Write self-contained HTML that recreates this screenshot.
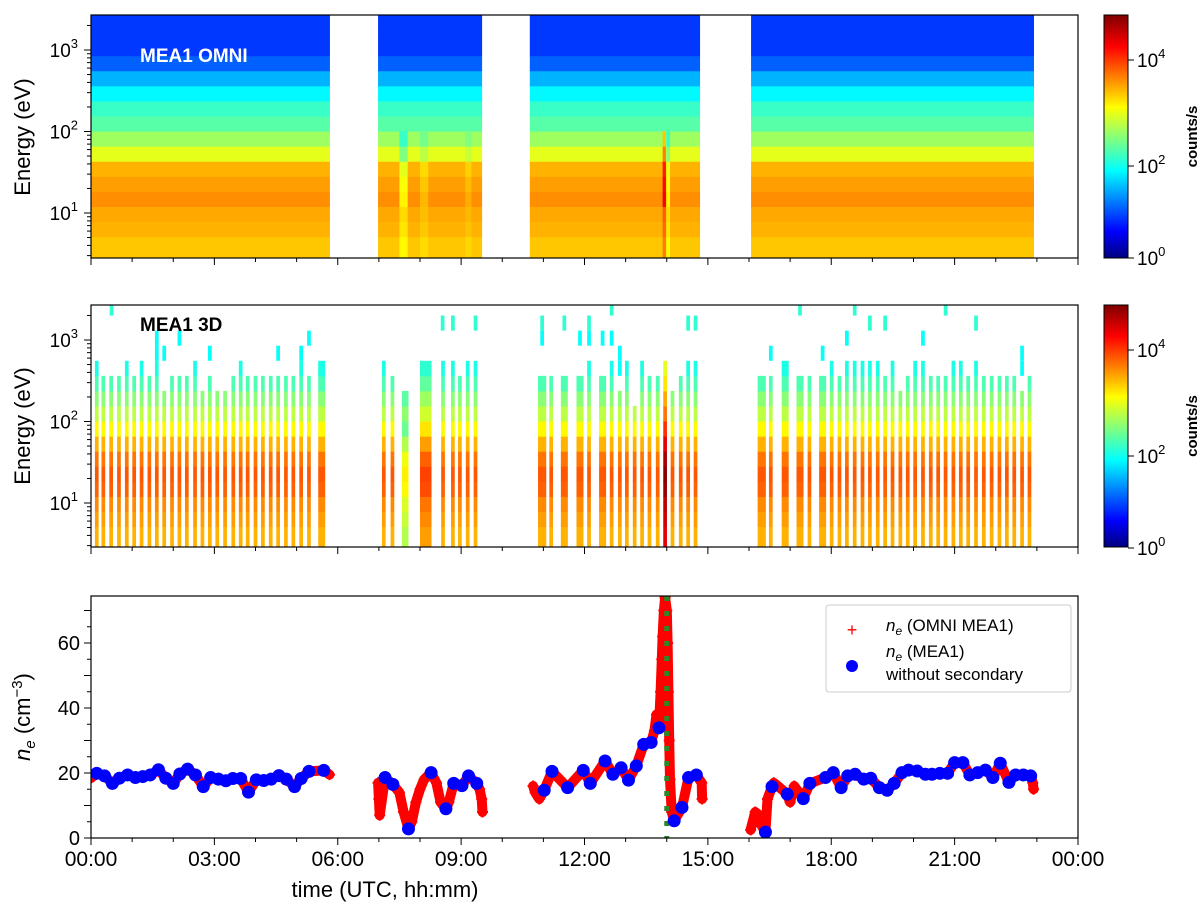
<!DOCTYPE html>
<html><head><meta charset="utf-8"><style>
body{margin:0;background:#fff}
svg{display:block;font-family:"Liberation Sans","DejaVu Sans",sans-serif}
</style></head><body>
<svg id="fig" width="1200" height="914" viewBox="0 0 1200 914" xmlns="http://www.w3.org/2000/svg">
<defs>
<linearGradient id="jet" x1="0" y1="1" x2="0" y2="0">
<stop offset="0" stop-color="#00007f"/><stop offset="0.11" stop-color="#0000ff"/><stop offset="0.36" stop-color="#00ffff"/><stop offset="0.62" stop-color="#ffff00"/><stop offset="0.87" stop-color="#ff0000"/><stop offset="1" stop-color="#7f0000"/>
</linearGradient>
<clipPath id="c1"><rect x="91" y="15" width="987" height="243"/></clipPath>
<clipPath id="c2"><rect x="91" y="305" width="987" height="242"/></clipPath>
<clipPath id="c3"><rect x="91" y="596" width="987" height="242"/></clipPath>
</defs>
<g id="p1" clip-path="url(#c1)"></g>
<g id="p2" clip-path="url(#c2)"></g>
<g id="p3" clip-path="url(#c3)"></g>
<g id="axes"></g>
<text x="140" y="62" font-size="19" font-weight="bold" fill="#fff">MEA1 OMNI</text>
<text x="140" y="331" font-size="19" font-weight="bold" fill="#000">MEA1 3D</text>
<text transform="translate(30,137) rotate(-90)" text-anchor="middle" font-size="22">Energy (eV)</text>
<text transform="translate(30,426) rotate(-90)" text-anchor="middle" font-size="22">Energy (eV)</text>
<text transform="translate(30,717) rotate(-90)" text-anchor="middle" font-size="22"><tspan font-style="italic">n</tspan><tspan font-style="italic" font-size="15" dy="5">e</tspan><tspan dy="-5"> (cm</tspan><tspan font-size="15" dy="-8">−3</tspan><tspan dy="8">)</tspan></text>
<text x="385" y="897" text-anchor="middle" font-size="22">time (UTC, hh:mm)</text>
<g>
<rect x="826" y="605" width="245" height="87" rx="3" fill="#fff" stroke="#ccc"/>
<text x="852" y="631" font-size="18" fill="red" text-anchor="middle" dominant-baseline="middle">+</text>
<text x="886" y="631" font-size="17"><tspan font-style="italic">n</tspan><tspan font-style="italic" font-size="12" dy="4">e</tspan><tspan dy="-4"> (OMNI MEA1)</tspan></text>
<circle cx="852" cy="666" r="6" fill="blue"/>
<text x="886" y="657" font-size="17"><tspan font-style="italic">n</tspan><tspan font-style="italic" font-size="12" dy="4">e</tspan><tspan dy="-4"> (MEA1)</tspan></text>
<text x="886" y="680" font-size="17">without secondary</text>
</g>
</svg>
<script>
// ---- data ----
const segments1 = [[0,5.81],[6.98,9.51],[10.67,14.81],[16.05,22.93]];
const profile1 = [0.68,0.68,0.70,0.71,0.735,0.72,0.70,0.60,0.53,0.46,0.43,0.37,0.30,0.22,0.18,0.18,0.18];
const events1 = [[7.5,7.7,-0.1],[8.0,8.2,-0.04],[9.1,9.25,-0.03],[13.9,13.98,0.15],[13.99,14.08,-0.1]];
const barTimes = [0.14,0.30,0.49,0.68,0.87,1.05,1.23,1.42,1.60,1.78,1.97,2.15,2.33,2.53,2.71,2.89,3.07,3.26,3.46,3.64,3.81,4.00,4.18,4.37,4.55,4.74,4.92,5.11,5.30,5.61,
7.12,7.33,7.64,8.14,8.56,8.80,8.97,9.16,9.35,
10.97,11.19,11.51,11.89,12.11,12.44,12.66,12.86,13.03,13.22,13.40,13.58,13.78,13.96,14.14,14.34,14.52,14.70,
16.31,16.53,16.88,17.24,17.47,17.79,18.01,18.20,18.38,18.57,18.76,18.94,19.13,19.31,19.49,19.68,19.86,20.04,20.23,20.42,20.60,20.78,20.97,21.15,21.33,21.52,21.71,21.90,22.09,22.27,22.45,22.64,22.82];
const barTops = [12,11,11,11,12,11,12,11,12,10,11,11,11,12,10,11,10,10,11,12,11,11,11,11,11,11,11,12,11,12,
12,11,10,12,12,12,11,12,12,
11,11,11,11,12,11,12,10,12,9,12,11,11,12,10,11,12,12,
11,11,12,11,11,11,12,11,12,12,12,12,12,11,12,10,11,12,12,11,11,11,12,12,11,12,11,11,11,11,11,10,11];
const wideBars = [[5.61,0.17],[7.64,0.16],[8.14,0.28],[10.97,0.2],[11.51,0.17],[11.89,0.17],[12.44,0.17],[16.31,0.2],[16.88,0.17],[17.24,0.17],[17.79,0.17]];
const profile2 = [0.70,0.70,0.72,0.74,0.78,0.79,0.76,0.70,0.63,0.56,0.51,0.45,0.40];
const barBoost = [[13.96,0.2],[7.64,-0.15],[8.14,0.02]];
const isoCells = [[0.50,16],[1.60,13],[1.60,14],[2.15,14],[1.78,13],[2.89,13],[4.55,13],[5.11,13],[5.30,14],[8.55,15],[8.80,15],[9.35,15],
[10.97,15],[10.97,14],[11.51,15],[11.89,14],[12.11,15],[12.11,14],[12.44,14],[12.66,16],[12.66,14],[12.86,13],[12.86,12],[14.52,15],[14.70,15],
[17.24,16],[16.53,13],[17.79,13],[18.38,14],[18.57,16],[18.94,15],[19.31,15],[20.23,14],[20.78,16],[21.52,15],[22.64,13],[22.64,12]];
const blueData = [[0.14,19.9],[0.33,19.1],[0.52,16.8],[0.69,18.4],[0.89,19.4],[1.08,18.6],[1.26,18.9],[1.44,19.4],[1.64,21],[1.82,18.4],[2.0,16.8],[2.16,19.7],[2.35,21.2],[2.54,19.4],[2.73,15.8],[2.91,18.6],[3.1,18.1],[3.28,17.6],[3.45,18.3],[3.64,18.3],[3.83,14.1],[4.02,17.9],[4.2,17.7],[4.38,18.1],[4.57,19.2],[4.75,18.1],[4.95,15.8],[5.11,18.3],[5.3,20.5],[5.66,20.8],
[7.15,18.6],[7.34,16.5],[7.72,2.8],[8.27,20.1],[8.63,9],[8.82,16.8],[9.02,16.1],[9.18,19.1],[9.38,16.8],
[11.02,14.7],[11.21,20.5],[11.59,15.5],[11.97,20.8],[12.14,16.8],[12.5,23.7],[12.69,19.6],[12.89,21.6],[13.07,17.8],[13.26,22.2],[13.44,28.8],[13.62,29.4],[13.81,33.9],[14.18,5.3],[14.37,9.4],[14.53,18.6],[14.72,19.4],
[16.4,1.8],[16.56,15.8],[16.93,13.5],[17.32,12.1],[17.48,16.8],[17.86,18.6],[18.05,20.1],[18.24,15.5],[18.4,19.1],[18.58,19.6],[18.79,18.1],[18.96,18.4],[19.17,15.5],[19.36,14.7],[19.53,16.8],[19.72,20.1],[19.88,20.9],[20.09,20.6],[20.29,19.6],[20.45,19.6],[20.64,19.9],[20.83,19.9],[21.0,23.2],[21.2,23.2],[21.37,19.4],[21.56,20.1],[21.75,20.9],[21.93,18.6],[22.11,23],[22.32,17.1],[22.48,19.4],[22.67,19.4],[22.85,19.1]];
const redExtra = [[0.0,18.5],[5.8,19.5],[6.98,17],[7.0,12],[7.02,7],[7.5,14],[7.6,8],[7.8,5],[7.9,11],[8.0,15],[8.1,18],[8.4,17],[8.5,11],[8.7,11],[9.45,15],[9.5,12],[9.52,8],
[10.75,16],[10.8,14],[10.9,12],[13.7,33],[13.75,38],[13.85,45],[13.88,55],[13.9,62],[13.93,70],[13.96,74],[14.0,70],[14.02,60],[14.04,45],[14.06,30],[14.08,18],[14.12,8],[14.85,17],[14.86,12],
[16.04,2.5],[16.15,8],[16.25,7],[16.3,4],[16.45,12],[16.6,17],[16.7,16],[17.0,11],[17.1,16],[22.9,17],[22.92,15]];
const xTickLabels = ["00:00","03:00","06:00","09:00","12:00","15:00","18:00","21:00","00:00"];
const yTicks3 = [0,20,40,60];
const cbLabels = [["4",60],["2",166],["0",258]];
const markerTime = 14.0;

// ---- axes functions ----
const NS="http://www.w3.org/2000/svg";
function X(t){return 91+t*41.125;}
function YE(logE,off){return 213+off-(logE-1)*81.5;}
function edge(j){return 0.525+0.185*j;}
function Yn(v){return 838-v*3.25;}
function jet(v){v=Math.max(0,Math.min(1,v));const c=x=>Math.round(255*Math.max(0,Math.min(1,1.5-Math.abs(4*v-x))));return `rgb(${c(3)},${c(2)},${c(1)})`;}
function mk(tag,attrs,parent){const e=document.createElementNS(NS,tag);for(const k in attrs)e.setAttribute(k,attrs[k]);parent.appendChild(e);return e;}
function binY(j,off){const top=YE(edge(j),off);const bot=j===0?YE(edge(-2),off):YE(edge(j-1),off);return [top,bot];}

// panel 1
const p1=document.getElementById('p1');
segments1.forEach(s=>{
  profile1.forEach((v,j)=>{const [t,b]=binY(j,0);
    const r=mk('rect',{x:X(s[0]),y:t,width:X(s[1])-X(s[0]),height:b-t+0.5,fill:jet(v)},p1);
    
    });
});
events1.forEach(ev=>{
  for(let j=0;j<=8;j++){const [t,b]=binY(j,0);
    const r=mk('rect',{x:X(ev[0]),y:t,width:X(ev[1])-X(ev[0]),height:b-t+0.5,fill:jet(profile1[j]+ev[2]*(j>=4&&j<=8?1:0.5))},p1);
    
    }
});
// panel 2
const p2=document.getElementById('p2');
barTimes.forEach((tm,i)=>{
  let w=0.09;wideBars.forEach(wb=>{if(Math.abs(wb[0]-tm)<0.01)w=wb[1];});
  let boost=0;barBoost.forEach(bb=>{if(Math.abs(bb[0]-tm)<0.01)boost=bb[1];});
  for(let j=0;j<=barTops[i];j++){const [t,b]=binY(j,290);
    let v=profile2[Math.min(j,12)];
    if(boost>0&&j>=4&&j<=9)v+=boost; else if(boost<0)v+=boost*(j<9?1:0.3); else v+=boost;
    const r=mk('rect',{x:X(tm)-X(w)/2+91/2,y:t,width:X(w)-91,height:b-t+0.5,fill:jet(v)},p2);
    
    }
});
isoCells.forEach(c=>{const [t,b]=binY(c[1],290);
  const r=mk('rect',{x:X(c[0])-X(0.09)/2+91/2,y:t,width:X(0.09)-91,height:b-t,fill:jet(c[1]>=15?0.42:0.38)},p2);
  
  });
// panel 3
const p3=document.getElementById('p3');
const red=blueData.concat(redExtra).sort((a,b)=>a[0]-b[0]);
let d='';red.forEach((p,i)=>{d+=(i===0||p[0]-red[i-1][0]>0.6?'M':'L')+X(p[0]).toFixed(1)+','+Yn(p[1]).toFixed(1);});
const band=mk('path',{d:d,fill:'none',stroke:'red','stroke-width':10,'stroke-linejoin':'round','stroke-linecap':'round'},p3);


red.forEach(p=>{const x=X(p[0]),y=Yn(p[1]);
  const c=mk('path',{d:`M${x-5.5},${y}h11M${x},${y-5.5}v11`,stroke:'red','stroke-width':2},p3);
  
  });
const gl=mk('line',{x1:X(markerTime),x2:X(markerTime),y1:596,y2:838,stroke:'#2a8a2a','stroke-width':5,'stroke-dasharray':'5 10'},p3);


blueData.forEach(p=>{const c=mk('circle',{cx:X(p[0]),cy:Yn(p[1]),r:6.5,fill:'blue'},p3);
  
  });

// axes
const ax=document.getElementById('axes');
[[15,258],[305,547],[596,838]].forEach((pp,k)=>{
  const f=mk('rect',{x:91,y:pp[0],width:987,height:pp[1]-pp[0],fill:'none',stroke:'#000','stroke-width':1.2},ax);
  
  
  for(let h=0;h<=24;h++){const major=h%3===0;
    mk('line',{x1:X(h),x2:X(h),y1:pp[1],y2:pp[1]+(major?7:4),stroke:'#000','stroke-width':1},ax);}
  if(k<2){const off=k*290;
    [1,2,3].forEach(e=>{const y=YE(e,off);mk('line',{x1:84,x2:91,y1:y,y2:y,stroke:'#000'},ax);
      const tx=mk('text',{x:78,y:y+7,'text-anchor':'end','font-size':19},ax);tx.innerHTML='10<tspan font-size="13" dy="-9">'+e+'</tspan>';
      
      });
    for(let e=0;e<=3;e++)for(let m=2;m<=9;m++){const y=YE(e+Math.log10(m),off);if(y>pp[0]&&y<pp[1])mk('line',{x1:87,x2:91,y1:y,y2:y,stroke:'#000'},ax);}
    const cb=mk('rect',{x:1104,y:pp[0],width:24,height:pp[1]-pp[0],fill:'url(#jet)',stroke:'#000'},ax);
    
    
    cbLabels.forEach(l=>{const y=l[1]+off;mk('line',{x1:1128,x2:1134,y1:y,y2:y,stroke:'#000'},ax);
      const tx=mk('text',{x:1137,y:y+7,'font-size':19},ax);tx.innerHTML='10<tspan font-size="13" dy="-9">'+l[0]+'</tspan>';
      
      });
    const cl=mk('text',{transform:`translate(1197,${(pp[0]+pp[1])/2}) rotate(-90)`,'text-anchor':'middle','font-size':15,'font-weight':'bold'},ax);
    cl.textContent='counts/s';
    
    
  }
});
for(let v=0;v<=70;v+=5){const y=Yn(v);mk('line',{x1:v%10===0?84:87,x2:91,y1:y,y2:y,stroke:'#000'},ax);}
yTicks3.forEach(v=>{const tx=mk('text',{x:80,y:Yn(v)+7,'text-anchor':'end','font-size':20},ax);tx.textContent=v;
  
  });
xTickLabels.forEach((l,i)=>{const tx=mk('text',{x:X(i*3),y:866,'text-anchor':'middle','font-size':21},ax);tx.textContent=l;
  
  });
</script>
</body></html>
